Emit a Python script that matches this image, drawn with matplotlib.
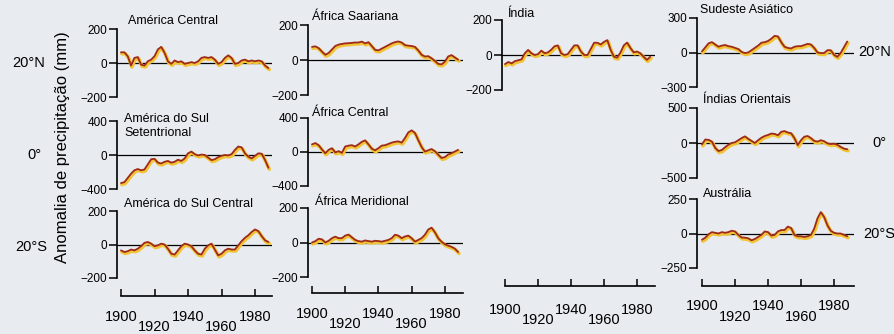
#Precipitation anomalies - tropical regions
import numpy as np
import matplotlib.pyplot as plt
from matplotlib import transforms
from matplotlib.ticker import FixedLocator

plt.rcParams['font.family'] = ['Liberation Sans', 'DejaVu Sans']

#data (mm), every 2 years 1900-1988
years = list(range(1900, 1989, 2))

america_central = [63, 63, 40, -15, 30, 35, -10, -15, 10, 20, 40, 80, 95, 60, 10,
                   -5, 15, 5, 10, -5, 0, 5, 0, 10, 30, 35, 30, 35, 20, -5,
                   5, 30, 45, 30, -5, 0, 15, 20, 10, 15, 10, 15, 10, -15, -30]
america_sul_set = [-330, -320, -270, -220, -180, -165, -180, -170, -110, -50, -45, -90, -100, -80, -70,
                   -90, -80, -55, -70, -40, 20, 40, 10, -5, 5, 0, -30, -60, -50, -25,
                   -10, 0, -5, 10, 60, 100, 90, 20, -20, -40, -10, 20, 15, -60, -150]
america_sul_cen = [-35, -45, -40, -30, -35, -25, -10, 10, 15, 5, -10, -5, 5, 0, -25,
                   -55, -60, -35, -10, 5, 0, -10, -35, -55, -60, -25, -5, 5, -30, -65,
                   -55, -35, -25, -30, -30, -5, 20, 40, 55, 75, 90, 80, 50, 25, 15]
africa_saariana = [75, 78, 68, 48, 30, 40, 60, 80, 88, 92, 95, 96, 98, 100, 100,
                   105, 95, 102, 80, 58, 55, 65, 75, 85, 95, 102, 106, 100, 85, 82,
                   80, 75, 55, 30, 20, 22, 10, -5, -22, -25, -10, 20, 28, 15, 2]
africa_central = [90, 105, 80, 30, -15, 25, 45, -5, 10, -10, 65, 75, 80, 65, 90,
                  120, 137, 90, 40, 20, 45, 75, 80, 95, 110, 120, 125, 110, 165, 230,
                  255, 225, 140, 60, 5, 20, 35, 10, -30, -70, -60, -30, -15, 5, 25]
africa_meridional = [0, 8, 22, 18, 0, 10, 25, 34, 25, 25, 40, 46, 30, 15, 8,
                     5, 12, 8, 5, 10, 8, 5, 10, 15, 25, 45, 40, 25, 35, 40,
                     25, 5, 15, 25, 45, 75, 86, 60, 25, 5, -10, -18, -25, -35, -55]
india = [-52, -40, -48, -35, -30, -25, 10, 29, 10, 0, 5, 25, 10, 15, 30,
         50, 55, 10, 0, 5, 30, 55, 55, 20, 0, 0, 35, 70, 70, 60,
         75, 85, 30, -10, -15, 15, 55, 71, 40, 15, 20, 10, -10, -28, -10]
sudeste_asiatico = [10, 45, 80, 90, 70, 50, 60, 65, 55, 50, 40, 30, 5, -5, 0,
                    20, 40, 60, 85, 90, 100, 120, 145, 140, 90, 50, 40, 35, 50, 55,
                    55, 65, 75, 70, 40, 0, -5, -5, 20, 20, -20, -38, -5, 45, 95]
indias_orientais = [-20, 50, 45, 20, -70, -115, -100, -60, -25, 0, 10, 40, 70, 95, 60,
                    30, 0, 40, 75, 100, 115, 135, 130, 110, 160, 170, 150, 140, 70, -30,
                    40, 90, 100, 70, 30, 20, 40, 25, -5, -15, -10, -25, -55, -80, -90]
australia = [-45, -30, -5, 10, 5, 0, 10, 5, 10, 20, 15, -10, -29, -30, -35,
             -49, -40, -25, -10, 15, 10, -15, -10, 15, 25, 25, 50, 40, -10, -20,
             -20, -25, -20, -10, 35, 110, 155, 120, 60, 20, 5, 0, 0, -10, -20]

W, H = 894, 334
fig = plt.figure(figsize=(W / 100, H / 100), dpi=100)
fig.patch.set_facecolor('#e8ebef')

red = '#9e2a1c'
yellow = '#f2c335'

# column geometry in pixels: spine x, x of 1900, px per year, right end
col1 = (117, 121, 1.675, 272)
col2 = (308, 312, 1.66, 463)
col3 = (502, 505, 1.65, 655)
col4 = (697, 702, 1.65, 854)


def xlims(col):
    spine, x0, ppy, right = col
    return 1900 - (x0 - spine) / ppy, 1900 + (right - x0) / ppy


def panel(col, top, bot, lim, data, title, tx, ty):
    spine, x0, ppy, right = col
    ax = fig.add_axes([spine / W, 1 - bot / H, (right - spine) / W, (bot - top) / H])
    ax.set_xlim(*xlims(col))
    ax.set_ylim(-lim, lim)
    ax.patch.set_visible(False)
    for s in ['top', 'right', 'bottom']:
        ax.spines[s].set_visible(False)
    ax.spines['left'].set_linewidth(1.2)
    ax.set_xticks([])
    ax.set_yticks([-lim, 0, lim])
    ax.tick_params(axis='y', length=5.5, width=1.1, pad=1.5, labelsize=8.5)
    ax.axhline(0, color='black', lw=0.9)
    shadow = transforms.offset_copy(ax.transData, fig=fig, x=0.6, y=-1.0, units='points')
    ax.plot(years, data, color=yellow, lw=2.6, transform=shadow, clip_on=False,
            solid_capstyle='round', solid_joinstyle='round')
    ax.plot(years, data, color=red, lw=1.3, clip_on=False,
            solid_capstyle='round', solid_joinstyle='round')
    fig.text(tx / W, 1 - ty / H, title, fontsize=9, ha='left', va='center',
             linespacing=1.25)
    return ax


def xaxis(col, y, lab1, lab2):
    spine, x0, ppy, right = col
    ax = fig.add_axes([spine / W, 1 - y / H, (right - spine) / W, 0.02])
    ax.set_xlim(*xlims(col))
    ax.patch.set_visible(False)
    for s in ['top', 'right', 'left']:
        ax.spines[s].set_visible(False)
    ax.spines['bottom'].set_bounds(1900, xlims(col)[1])
    ax.spines['bottom'].set_linewidth(1.2)
    ax.set_yticks([])
    ax.xaxis.set_major_locator(FixedLocator([1900, 1940, 1980]))
    ax.xaxis.set_minor_locator(FixedLocator([1920, 1960]))
    ax.set_xticklabels(['1900', '1940', '1980'])
    ax.set_xticklabels(['1920', '1960'], minor=True)
    ax.tick_params(axis='x', which='both', direction='in', length=5, width=1.1,
                   labelsize=10.5)
    ax.tick_params(axis='x', which='major', pad=lab1)
    ax.tick_params(axis='x', which='minor', pad=lab2)


panel(col1, 29, 97, 200, america_central, 'América Central', 128, 21)
panel(col1, 121, 189, 400, america_sul_set, 'América do Sul\nSetentrional', 124, 126)
panel(col1, 211, 278, 200, america_sul_cen, 'América do Sul Central', 124, 204)
panel(col2, 25, 95, 200, africa_saariana, 'África Saariana', 312, 17)
panel(col2, 118, 186, 400, africa_central, 'África Central', 312, 113)
panel(col2, 208, 277, 200, africa_meridional, 'África Meridional', 315, 202)
panel(col3, 20, 90, 200, india, 'Índia', 507, 14)
panel(col4, 18, 87, 300, sudeste_asiatico, 'Sudeste Asiático', 700, 10)
panel(col4, 108, 178, 500, indias_orientais, 'Índias Orientais', 703, 100)
panel(col4, 199, 268, 250, australia, 'Austrália', 703, 194)

xaxis(col1, 296, 10, 17)
xaxis(col2, 293, 10, 17)
xaxis(col3, 286, 12.5, 19.5)
xaxis(col4, 286, 9.5, 17)

# latitude marks
for txt, x, y in [('20°N', 12, 63), ('0°', 27, 155), ('20°S', 15, 247),
                  ('20°N', 858, 52), ('0°', 872, 143), ('20°S', 863, 234)]:
    fig.text(x / W, 1 - y / H, txt, fontsize=10.5, ha='left', va='center')

fig.text(63 / W, 1 - 147 / H, 'Anomalia de precipitação (mm)', fontsize=12,
         rotation=90, ha='center', va='center')

fig.savefig('out.png', dpi=100, facecolor=fig.get_facecolor())
